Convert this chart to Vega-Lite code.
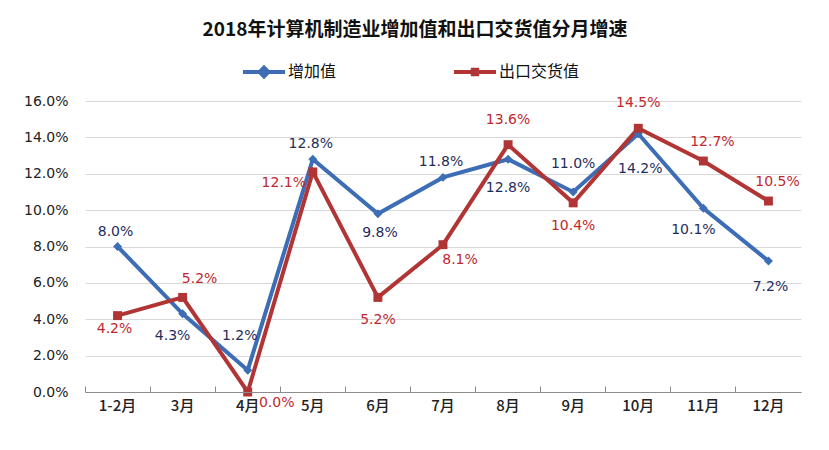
{
  "$schema": "https://vega.github.io/schema/vega-lite/v6.json",
  "width": 716,
  "height": 291,
  "autosize": {"type": "none"},
  "padding": {"left": 85, "top": 101, "right": 28, "bottom": 58},
  "background": "white",
  "title": {
    "text": "2018年计算机制造业增加值和出口交货值分月增速",
    "font": "Noto Sans CJK SC",
    "fontSize": 19,
    "fontWeight": "bold",
    "color": "#111111",
    "anchor": "middle",
    "frame": "group",
    "dx": -28,
    "offset": 11
  },
  "config": {
    "view": {"stroke": null},
    "font": "DejaVu Sans, Noto Sans CJK SC"
  },
  "data": {
    "values": [
      {"m": "1-2月", "s": "增加值", "v": 0.080},
      {"m": "3月", "s": "增加值", "v": 0.043},
      {"m": "4月", "s": "增加值", "v": 0.012},
      {"m": "5月", "s": "增加值", "v": 0.128},
      {"m": "6月", "s": "增加值", "v": 0.098},
      {"m": "7月", "s": "增加值", "v": 0.118},
      {"m": "8月", "s": "增加值", "v": 0.128},
      {"m": "9月", "s": "增加值", "v": 0.110},
      {"m": "10月", "s": "增加值", "v": 0.142},
      {"m": "11月", "s": "增加值", "v": 0.101},
      {"m": "12月", "s": "增加值", "v": 0.072},
      {"m": "1-2月", "s": "出口交货值", "v": 0.042},
      {"m": "3月", "s": "出口交货值", "v": 0.052},
      {"m": "4月", "s": "出口交货值", "v": 0.000},
      {"m": "5月", "s": "出口交货值", "v": 0.121},
      {"m": "6月", "s": "出口交货值", "v": 0.052},
      {"m": "7月", "s": "出口交货值", "v": 0.081},
      {"m": "8月", "s": "出口交货值", "v": 0.136},
      {"m": "9月", "s": "出口交货值", "v": 0.104},
      {"m": "10月", "s": "出口交货值", "v": 0.145},
      {"m": "11月", "s": "出口交货值", "v": 0.127},
      {"m": "12月", "s": "出口交货值", "v": 0.105}
    ]
  },
  "encoding": {
    "x": {
      "field": "m",
      "type": "ordinal",
      "sort": ["1-2月","3月","4月","5月","6月","7月","8月","9月","10月","11月","12月"],
      "scale": {"type": "band", "paddingInner": 0, "paddingOuter": 0},
      "axis": {
        "title": null,
        "labelAngle": 0,
        "labelFont": "Noto Sans CJK SC",
        "labelFontSize": 15,
        "labelFontWeight": 500,
        "labelColor": "#222222",
        "labelPadding": 12,
        "domainColor": "#8c8c8c",
        "domainWidth": 1,
        "tickColor": "#8c8c8c",
        "tickSize": -6,
        "bandPosition": 0,
        "grid": false,
        "zindex": 1
      }
    },
    "y": {
      "field": "v",
      "type": "quantitative",
      "scale": {"domain": [0, 0.16], "nice": false},
      "axis": {
        "title": null,
        "values": [0, 0.02, 0.04, 0.06, 0.08, 0.1, 0.12, 0.14, 0.16],
        "format": ".1%",
        "labelFont": "DejaVu Sans",
        "labelFontSize": 14,
        "labelColor": "#222222",
        "labelPadding": 17,
        "domain": false,
        "ticks": false,
        "grid": true,
        "gridColor": "#d9d9d9",
        "gridWidth": 1
      }
    }
  },
  "layer": [
    {
      "transform": [{"filter": {"field": "s", "equal": "增加值"}}],
      "mark": {"type": "line", "color": "#3d6db5", "strokeWidth": 4}
    },
    {
      "transform": [{"filter": {"field": "s", "equal": "出口交货值"}}],
      "mark": {"type": "line", "color": "#b23535", "strokeWidth": 4}
    },
    {
      "transform": [{"filter": {"field": "s", "equal": "增加值"}}],
      "mark": {"type": "point", "shape": "diamond", "filled": true, "color": "#3d6db5", "size": 80, "opacity": 1}
    },
    {
      "transform": [{"filter": {"field": "s", "equal": "出口交货值"}}],
      "mark": {"type": "point", "shape": "square", "filled": true, "color": "#b23535", "size": 80, "opacity": 1}
    },
    {
      "mark": {"type": "point", "filled": true, "opacity": 0},
      "encoding": {
        "color": {
          "field": "s",
          "type": "nominal",
          "scale": {"domain": ["增加值", "出口交货值"], "range": ["#3d6db5", "#b23535"]},
          "legend": {
            "title": null,
            "orient": "none",
            "direction": "horizontal",
            "legendX": 158,
            "legendY": -50,
            "symbolSize": 1764,
            "symbolOpacity": 1,
            "symbolStrokeWidth": 0,
            "labelFont": "Noto Sans CJK SC",
            "labelFontSize": 16,
            "labelColor": "#111111",
            "labelOffset": 3,
            "columnPadding": 117,
            "encode": {"symbols": {"update": {"opacity": {"value": 1}, "fillOpacity": {"value": 1}}}}
          }
        },
        "shape": {
          "field": "s",
          "type": "nominal",
          "scale": {
            "domain": ["增加值", "出口交货值"],
            "range": [
              "M-1,-0.1L-0.25,-0.1L0,-0.35L0.25,-0.1L1,-0.1L1,0.1L0.25,0.1L0,0.35L-0.25,0.1L-1,0.1Z",
              "M-1,-0.1L-0.2,-0.1L-0.2,-0.2L0.2,-0.2L0.2,-0.1L1,-0.1L1,0.1L0.2,0.1L0.2,0.2L-0.2,0.2L-0.2,0.1L-1,0.1Z"
            ]
          }
        }
      }
    },
    {
      "transform": [{"filter": {"and": [{"field": "s", "equal": "增加值"}, {"field": "m", "oneOf": ["1-2月", "5月", "7月"]}]}}],
      "mark": {"type": "text", "fontSize": 14, "color": "#1f2d5c", "baseline": "middle", "dx": -2, "dy": -15},
      "encoding": {"text": {"field": "v", "type": "quantitative", "format": ".1%"}}
    },
    {
      "transform": [{"filter": {"and": [{"field": "s", "equal": "增加值"}, {"field": "m", "oneOf": ["9月"]}]}}],
      "mark": {"type": "text", "fontSize": 14, "color": "#1f2d5c", "baseline": "middle", "dx": 0, "dy": -28},
      "encoding": {"text": {"field": "v", "type": "quantitative", "format": ".1%"}}
    },
    {
      "transform": [{"filter": {"and": [{"field": "s", "equal": "增加值"}, {"field": "m", "oneOf": ["4月"]}]}}],
      "mark": {"type": "text", "fontSize": 14, "color": "#1f2d5c", "baseline": "middle", "dx": -8, "dy": -34},
      "encoding": {"text": {"field": "v", "type": "quantitative", "format": ".1%"}}
    },
    {
      "transform": [{"filter": {"and": [{"field": "s", "equal": "增加值"}, {"field": "m", "oneOf": ["3月", "11月"]}]}}],
      "mark": {"type": "text", "fontSize": 14, "color": "#1f2d5c", "baseline": "middle", "dx": -10, "dy": 22},
      "encoding": {"text": {"field": "v", "type": "quantitative", "format": ".1%"}}
    },
    {
      "transform": [{"filter": {"and": [{"field": "s", "equal": "增加值"}, {"field": "m", "oneOf": ["6月"]}]}}],
      "mark": {"type": "text", "fontSize": 14, "color": "#1f2d5c", "baseline": "middle", "dx": 2, "dy": 19},
      "encoding": {"text": {"field": "v", "type": "quantitative", "format": ".1%"}}
    },
    {
      "transform": [{"filter": {"and": [{"field": "s", "equal": "增加值"}, {"field": "m", "oneOf": ["12月"]}]}}],
      "mark": {"type": "text", "fontSize": 14, "color": "#1f2d5c", "baseline": "middle", "dx": 2, "dy": 26},
      "encoding": {"text": {"field": "v", "type": "quantitative", "format": ".1%"}}
    },
    {
      "transform": [{"filter": {"and": [{"field": "s", "equal": "增加值"}, {"field": "m", "oneOf": ["8月"]}]}}],
      "mark": {"type": "text", "fontSize": 14, "color": "#1f2d5c", "baseline": "middle", "dx": 0, "dy": 29},
      "encoding": {"text": {"field": "v", "type": "quantitative", "format": ".1%"}}
    },
    {
      "transform": [{"filter": {"and": [{"field": "s", "equal": "增加值"}, {"field": "m", "oneOf": ["10月"]}]}}],
      "mark": {"type": "text", "fontSize": 14, "color": "#1f2d5c", "baseline": "middle", "dx": 2, "dy": 35},
      "encoding": {"text": {"field": "v", "type": "quantitative", "format": ".1%"}}
    },
    {
      "transform": [{"filter": {"and": [{"field": "s", "equal": "出口交货值"}, {"field": "m", "oneOf": ["3月"]}]}}],
      "mark": {"type": "text", "fontSize": 14, "color": "#c0282d", "baseline": "middle", "dx": 17, "dy": -18},
      "encoding": {"text": {"field": "v", "type": "quantitative", "format": ".1%"}}
    },
    {
      "transform": [{"filter": {"and": [{"field": "s", "equal": "出口交货值"}, {"field": "m", "oneOf": ["11月", "12月"]}]}}],
      "mark": {"type": "text", "fontSize": 14, "color": "#c0282d", "baseline": "middle", "dx": 9, "dy": -19},
      "encoding": {"text": {"field": "v", "type": "quantitative", "format": ".1%"}}
    },
    {
      "transform": [{"filter": {"and": [{"field": "s", "equal": "出口交货值"}, {"field": "m", "oneOf": ["8月", "10月"]}]}}],
      "mark": {"type": "text", "fontSize": 14, "color": "#c0282d", "baseline": "middle", "dx": 0, "dy": -25},
      "encoding": {"text": {"field": "v", "type": "quantitative", "format": ".1%"}}
    },
    {
      "transform": [{"filter": {"and": [{"field": "s", "equal": "出口交货值"}, {"field": "m", "oneOf": ["1-2月"]}]}}],
      "mark": {"type": "text", "fontSize": 14, "color": "#c0282d", "baseline": "middle", "dx": -3, "dy": 13},
      "encoding": {"text": {"field": "v", "type": "quantitative", "format": ".1%"}}
    },
    {
      "transform": [{"filter": {"and": [{"field": "s", "equal": "出口交货值"}, {"field": "m", "oneOf": ["4月"]}]}}],
      "mark": {"type": "text", "fontSize": 14, "color": "#c0282d", "baseline": "middle", "dx": 29, "dy": 11},
      "encoding": {"text": {"field": "v", "type": "quantitative", "format": ".1%"}}
    },
    {
      "transform": [{"filter": {"and": [{"field": "s", "equal": "出口交货值"}, {"field": "m", "oneOf": ["5月"]}]}}],
      "mark": {"type": "text", "fontSize": 14, "color": "#c0282d", "baseline": "middle", "dx": -29, "dy": 11},
      "encoding": {"text": {"field": "v", "type": "quantitative", "format": ".1%"}}
    },
    {
      "transform": [{"filter": {"and": [{"field": "s", "equal": "出口交货值"}, {"field": "m", "oneOf": ["6月", "9月"]}]}}],
      "mark": {"type": "text", "fontSize": 14, "color": "#c0282d", "baseline": "middle", "dx": 0, "dy": 23},
      "encoding": {"text": {"field": "v", "type": "quantitative", "format": ".1%"}}
    },
    {
      "transform": [{"filter": {"and": [{"field": "s", "equal": "出口交货值"}, {"field": "m", "oneOf": ["7月"]}]}}],
      "mark": {"type": "text", "fontSize": 14, "color": "#c0282d", "baseline": "middle", "dx": 17, "dy": 15},
      "encoding": {"text": {"field": "v", "type": "quantitative", "format": ".1%"}}
    }
  ]
}
